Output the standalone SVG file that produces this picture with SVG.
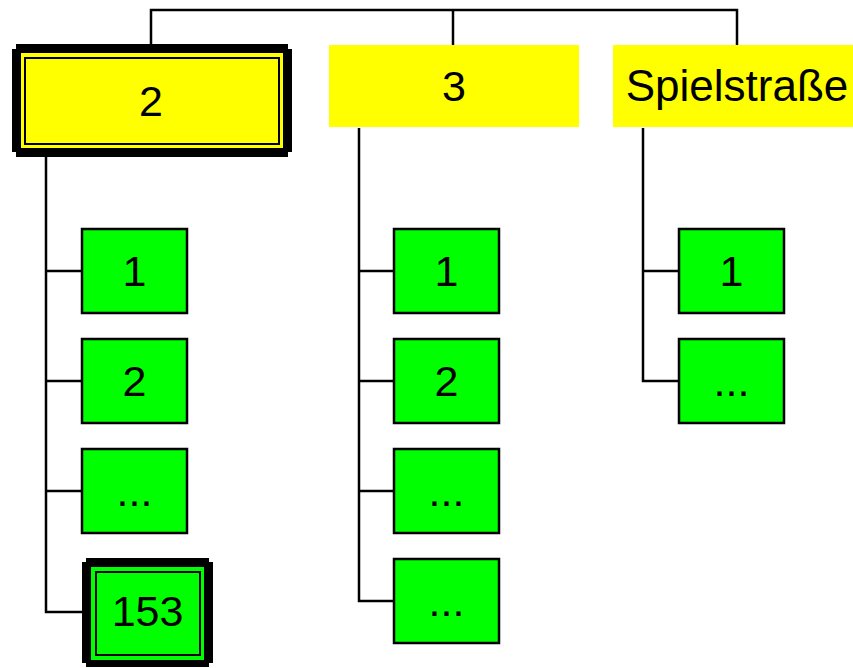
<svg xmlns="http://www.w3.org/2000/svg" width="853" height="668" viewBox="0 0 853 668">
<style>
.t{font-family:"Liberation Sans",Arial,sans-serif;font-size:43px;fill:#000;text-anchor:middle}
.g{fill:#00FF00;stroke:#000;stroke-width:2.5}
.y{fill:#FFFF00}
.c{fill:none;stroke:#000;stroke-width:2.5}
.thin{fill:none;stroke:#000;stroke-width:2}
</style>
<rect width="853" height="668" fill="#fff"/>
<g id="connectors">
<polyline class="c" points="151,44 151,10 737,10 737,45"/>
<line class="c" x1="453" y1="10" x2="453" y2="45"/>
<polyline class="c" points="46,157 46,612 82,612"/>
<line class="c" x1="46" y1="271" x2="82" y2="271"/>
<line class="c" x1="46" y1="381" x2="82" y2="381"/>
<line class="c" x1="46" y1="491" x2="82" y2="491"/>
<polyline class="c" points="359,128 359,601 394,601"/>
<line class="c" x1="359" y1="271" x2="394" y2="271"/>
<line class="c" x1="359" y1="381" x2="394" y2="381"/>
<line class="c" x1="359" y1="491" x2="394" y2="491"/>
<polyline class="c" points="643,128 643,381 679,381"/>
<line class="c" x1="643" y1="271" x2="679" y2="271"/>
</g>
<g id="n2">
<rect x="16" y="44" width="272" height="113" fill="#000"/>
<rect x="12" y="49" width="280" height="103" fill="#000"/>
<rect class="y" x="21" y="53" width="262" height="95"/>
<rect class="thin" x="25" y="58" width="254" height="86"/>
<text class="t" x="151" y="116">2</text>
</g>
<g id="n3">
<rect class="y" x="329" y="45" width="250" height="82"/>
<text class="t" x="454" y="101">3</text>
</g>
<g id="nSpiel">
<rect class="y" x="613" y="45" width="248" height="82"/>
<text class="t" x="737" y="101" style="font-size:44px">Spielstraße</text>
</g>
<g id="n2-1"><rect class="g" x="82" y="229" width="105" height="84"/><text class="t" x="134.5" y="286">1</text></g>
<g id="n2-2"><rect class="g" x="82" y="339" width="105" height="84"/><text class="t" x="134.5" y="396">2</text></g>
<g id="n2-3"><rect class="g" x="82" y="449" width="105" height="84"/><text class="t" x="134.5" y="506">...</text></g>
<g id="n2-153">
<rect x="86" y="558" width="123" height="109" fill="#000"/>
<rect x="82" y="562" width="131" height="101" fill="#000"/>
<rect x="91" y="567" width="113" height="93" fill="#00FF00"/>
<rect class="thin" x="96" y="572" width="104" height="83"/>
<text class="t" x="147.5" y="626">153</text>
</g>
<g id="n3-1"><rect class="g" x="394" y="229" width="105" height="84"/><text class="t" x="446.5" y="286">1</text></g>
<g id="n3-2"><rect class="g" x="394" y="339" width="105" height="84"/><text class="t" x="446.5" y="396">2</text></g>
<g id="n3-3"><rect class="g" x="394" y="449" width="105" height="84"/><text class="t" x="446.5" y="506">...</text></g>
<g id="n3-4"><rect class="g" x="394" y="559" width="105" height="84"/><text class="t" x="446.5" y="616">...</text></g>
<g id="nS-1"><rect class="g" x="679" y="229" width="105" height="84"/><text class="t" x="731.5" y="286">1</text></g>
<g id="nS-2"><rect class="g" x="679" y="339" width="105" height="84"/><text class="t" x="731.5" y="396">...</text></g>
</svg>
